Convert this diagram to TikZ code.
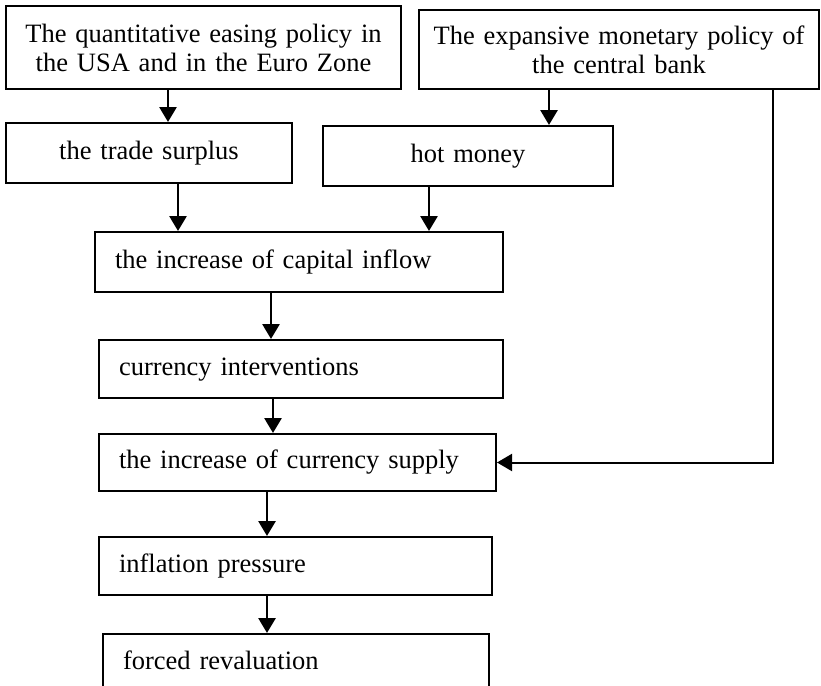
\documentclass[tikz,border=0pt]{standalone}
\usepackage{fontspec}
\setmainfont{Liberation Serif}
\usetikzlibrary{arrows.meta}

\begin{document}
\begin{tikzpicture}[x=1pt, y=-1pt,
			box/.style={draw, line width=2pt, inner xsep=20pt, inner ysep=0pt,
				font=\fontsize{26.5}{29}\selectfont, text height=18.5pt, text depth=6.5pt,
				align=left, minimum height=58pt},
			headbox/.style={draw, line width=2pt, inner xsep=5pt, inner ysep=0pt,
				font=\fontsize{26.5}{29}\selectfont, align=center},
			flow/.style={-{Triangle[length=15pt, width=17pt]}, line width=2.8pt},
			side/.style={-{Triangle[length=15pt, width=17pt]}, line width=2pt}]
			
			\useasboundingbox (0,0) rectangle (821,685);
			
			% Cause in alto
			\node[headbox, text width=385pt, minimum height=83pt] (qe) at (203.5,47.5)
				{The quantitative easing policy in\\the USA and in the Euro Zone};
			\node[headbox, text width=390pt, minimum height=79pt] (bank) at (619,49.5)
				{The expansive monetary policy of\\the central bank};
			
			% Canali
			\node[box, text width=246pt, align=center, minimum height=60pt] (trade) at (149,153) {the trade surplus};
			\node[box, text width=250pt, align=center, minimum height=60pt] (hot) at (468,156) {hot money};
			
			% Catena verticale
			\node[box, text width=368pt, minimum height=60pt] (capital) at (299,262) {the increase of capital inflow};
			\node[box, text width=364pt] (interv) at (301,369) {currency interventions};
			\node[box, text width=357pt, minimum height=57pt] (supply) at (297.5,462.5) {the increase of currency supply};
			\node[box, text width=353pt] (inflation) at (295.5,566) {inflation pressure};
			\node[box, text width=346pt] (forced) at (296,663) {forced revaluation};
			
			% --- Frecce ---
			\draw[flow] (qe.south -| 168,0) -- (trade.north -| 168,0);
			\draw[flow] (bank.south -| 549,0) -- (hot.north -| 549,0);
			\draw[flow] (trade.south -| 178,0) -- (capital.north -| 178,0);
			\draw[flow] (hot.south -| 429,0) -- (capital.north -| 429,0);
			\draw[flow] (capital.south -| 271,0) -- (interv.north -| 271,0);
			\draw[flow] (interv.south -| 273,0) -- (supply.north -| 273,0);
			\draw[flow] (supply.south -| 267,0) -- (inflation.north -| 267,0);
			\draw[flow] (inflation.south -| 267,0) -- (forced.north -| 267,0);
			
			% Dalla banca centrale all'offerta di moneta
			\draw[side] (bank.south -| 773,0) |- (supply.east);
		\end{tikzpicture}
\end{document}
